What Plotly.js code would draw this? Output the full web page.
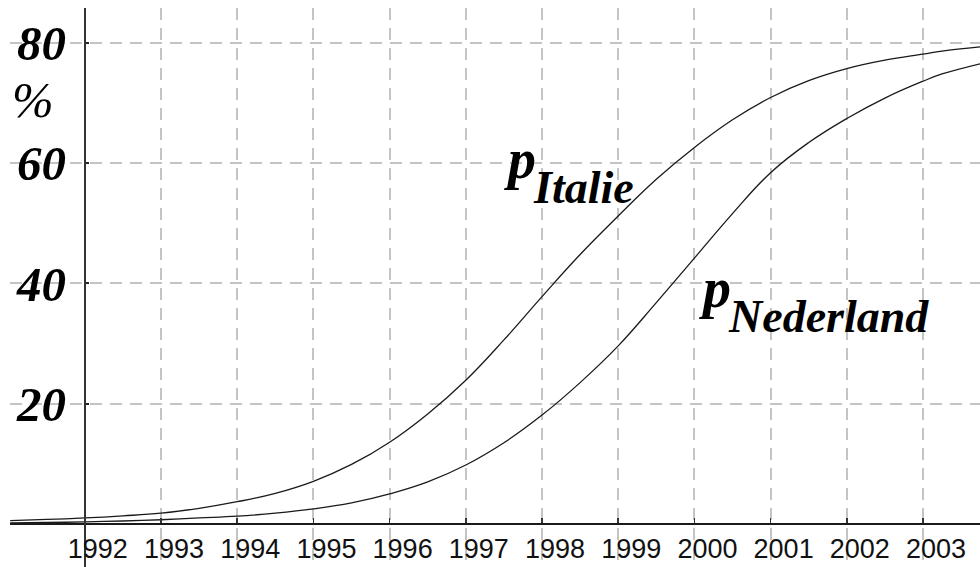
<!DOCTYPE html>
<html>
<head>
<meta charset="utf-8">
<script src="https://cdn.plot.ly/plotly-3.0.1.min.js"></script>
<style>html,body{margin:0;padding:0;background:#fff;}#chart{width:980px;height:567px;}</style>
</head>
<body>
<div id="chart"></div>
<script>
// Data
var years = [1991.02, 1991.5, 1992, 1992.5, 1993, 1993.5, 1994, 1994.5, 1995, 1995.5, 1996, 1996.5, 1997, 1997.5, 1998, 1998.5, 1999, 1999.5, 2000, 2000.5, 2001, 2001.5, 2002, 2002.5, 2003, 2003.25, 2003.75];
var pItalie = [0.55, 0.75, 1.0, 1.35, 1.8, 2.6, 3.7, 5.1, 7.1, 9.9, 13.6, 18.3, 23.9, 30.6, 37.8, 44.8, 51.2, 57.3, 62.6, 67.2, 70.9, 73.7, 75.7, 77.1, 78.1, 78.6, 79.3];
var pNederland = [0.2, 0.25, 0.35, 0.5, 0.7, 1.0, 1.3, 1.8, 2.5, 3.5, 5.0, 7.0, 9.8, 13.5, 18.1, 23.5, 29.6, 36.8, 44.2, 51.6, 58.4, 63.4, 67.4, 70.8, 73.6, 74.8, 76.5];
var xTickVals = [1992, 1993, 1994, 1995, 1996, 1997, 1998, 1999, 2000, 2001, 2002, 2003];
var xTickText = ["1992", "1993", "1994", "1995", "1996", "1997", "1998", "1999", "2000", "2001", "2002", "2003"];
var yTickVals = [20, 40, 60, 80];
var yTickText = ["20", "40", "60", "80"];
var yUnit = "%";
var seriesNames = ["Italie", "Nederland"];

var xRange = [1991.018, 2003.748];
var yRange = [-7.15, 85.77];

var lineStyle = {color: '#1a1a1a', width: 1.3, shape: 'spline', smoothing: 1.2};
var traces = [
  {x: years, y: pItalie, mode: 'lines', line: lineStyle, name: seriesNames[0], hoverinfo: 'x+y'},
  {x: years, y: pNederland, mode: 'lines', line: lineStyle, name: seriesNames[1], hoverinfo: 'x+y'}
];

var serifBI = {family: '"Liberation Serif", "Times New Roman", serif', color: '#000', weight: 'bold', style: 'italic'};
function f(size, extra) { var o = Object.assign({}, serifBI, {size: size}); return Object.assign(o, extra || {}); }

var layout = {
  width: 980, height: 567,
  margin: {l: 10, r: 0, t: 8, b: 0, pad: 0},
  paper_bgcolor: '#fff', plot_bgcolor: '#fff',
  showlegend: false,
  xaxis: {
    range: xRange, anchor: 'free', position: (0 - yRange[0]) / (yRange[1] - yRange[0]),
    tickvals: xTickVals, ticktext: xTickText,
    showline: true, linecolor: '#1a1a1a', linewidth: 2.5,
    ticks: 'inside', ticklen: 5, tickwidth: 1.5, tickcolor: '#333',
    ticklabelshift: 13, ticklabelstandoff: 0,
    tickfont: {family: '"Liberation Sans", Arial, sans-serif', size: 27, color: '#111'},
    showgrid: true, gridcolor: '#c4c4c4', gridwidth: 2, griddash: '12px,8px',
    zeroline: false, fixedrange: true
  },
  yaxis: {
    range: yRange, anchor: 'free', position: (1992 - xRange[0]) / (xRange[1] - xRange[0]),
    tickvals: yTickVals, ticktext: yTickText,
    showline: true, linecolor: '#333', linewidth: 2,
    ticks: 'inside', ticklen: 3, tickwidth: 2, tickcolor: '#222',
    ticklabelstandoff: 8,
    tickfont: f(49),
    showgrid: true, gridcolor: '#c4c4c4', gridwidth: 2, griddash: '12px,8px',
    zeroline: false, fixedrange: true
  },
  annotations: [
    {xref: 'paper', yref: 'y', x: 0.0, y: 70.5, xanchor: 'left', yanchor: 'middle', text: yUnit, showarrow: false,
     font: f(50, {weight: 'normal'})},
    {xref: 'x', yref: 'y', x: 1997.48, y: 60.6, xanchor: 'left', yanchor: 'middle', text: 'p', showarrow: false, font: f(56)},
    {xref: 'x', yref: 'y', x: 1997.86, y: 56.0, xanchor: 'left', yanchor: 'middle', text: seriesNames[0], showarrow: false, font: f(46)},
    {xref: 'x', yref: 'y', x: 2000.04, y: 39.3, xanchor: 'left', yanchor: 'middle', text: 'p', showarrow: false, font: f(56)},
    {xref: 'x', yref: 'y', x: 2000.42, y: 34.5, xanchor: 'left', yanchor: 'middle', text: seriesNames[1], showarrow: false, font: f(46)}
  ]
};

Plotly.newPlot('chart', traces, layout, {staticPlot: true, displayModeBar: false});
</script>
</body>
</html>
